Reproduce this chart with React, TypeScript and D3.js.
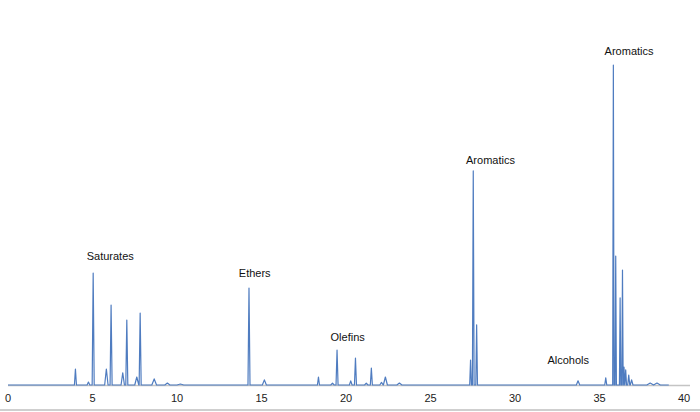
import React from "react";
import * as d3 from "d3";

// Retention times (min), peak heights (relative units), half widths (min)
const peakTimes = [
  3.99, 4.76, 5.04, 5.82, 6.1, 6.79, 7.03, 7.62, 7.82, 8.65, 9.43, 10.2,
  14.26, 15.17,
  18.37, 19.2, 19.47, 20.28, 20.56, 21.2, 21.5, 22.1, 22.33, 23.16,
  27.37, 27.53, 27.73,
  33.73, 35.37, 35.82, 35.96, 36.22, 36.36, 36.45, 36.55, 36.73, 36.9, 38.0, 38.4,
];
const peakHeights = [
  5.0, 0.9, 35, 5.0, 25, 3.8, 20.3, 2.5, 22.5, 1.9, 0.6, 0.3,
  30.3, 1.6,
  2.5, 0.6, 10.9, 1.3, 8.4, 0.6, 5.3, 0.8, 2.5, 0.6,
  7.8, 66.9, 18.8,
  1.3, 2.2, 100, 40.3, 27.2, 35.9, 5.6, 4.7, 3.1, 1.6, 0.6, 0.6,
];
const peakHalfWidths = [
  0.06, 0.08, 0.06, 0.1, 0.06, 0.1, 0.06, 0.12, 0.06, 0.14, 0.15, 0.2,
  0.06, 0.12,
  0.06, 0.1, 0.06, 0.08, 0.06, 0.1, 0.06, 0.1, 0.12, 0.15,
  0.05, 0.05, 0.05,
  0.1, 0.06, 0.04, 0.04, 0.04, 0.04, 0.04, 0.05, 0.06, 0.08, 0.2, 0.2,
];
const traceStart = 0;
const traceEnd = 39.1;

const xTicks = [0, 5, 10, 15, 20, 25, 30, 35, 40];

const labelTexts = ["Saturates", "Ethers", "Olefins", "Aromatics", "Alcohols", "Aromatics"];
const labelTimes = [6.05, 14.6, 20.1, 28.55, 33.15, 36.75];
const labelHeights = [39.1, 33.8, 13.9, 69.2, 6.6, 103.0];

export default function App() {
  const W = 700;
  const H = 412;
  const x = d3.scaleLinear().domain([0, 40]).range([8, 684]);
  const y = d3.scaleLinear().domain([0, 110]).range([385, 33]);

  // Build trace: baseline, then each peak as rise-apex-fall
  const pts: [number, number][] = [[traceStart, 0]];
  peakTimes.forEach((t, i) => {
    const w = peakHalfWidths[i];
    pts.push([t - w, 0], [t, peakHeights[i]], [t + w, 0]);
  });
  pts.push([traceEnd, 0]);
  pts.sort((a, b) => a[0] - b[0]);

  const line = d3
    .line<[number, number]>()
    .x((d) => x(d[0]))
    .y((d) => y(d[1]));

  return (
    <svg
      width={W}
      height={H}
      style={{ position: "absolute", left: 0, top: 0, background: "#fff" }}
      fontFamily="'Liberation Sans', Arial, sans-serif"
    >
      <rect x={0} y={0} width={W} height={H} fill="#fff" />
      <line x1={x(0)} x2={690} y1={y(0) + 0.5} y2={y(0) + 0.5} stroke="#c4c4c4" strokeWidth={1.5} />
      <path d={line(pts) || ""} fill="none" stroke="#4f7cc0" strokeWidth={1.2} strokeLinejoin="round" />
      {xTicks.map((t) => (
        <text key={t} x={x(t)} y={402} textAnchor="middle" fontSize={11} fill="#222">
          {t}
        </text>
      ))}
      {labelTexts.map((s, i) => (
        <text
          key={i}
          x={x(labelTimes[i])}
          y={y(labelHeights[i])}
          textAnchor="middle"
          fontSize={11}
          fill="#111"
        >
          {s}
        </text>
      ))}
      <line x1={0} x2={W} y1={410} y2={410} stroke="#cfcfcf" strokeWidth={2} />
    </svg>
  );
}
